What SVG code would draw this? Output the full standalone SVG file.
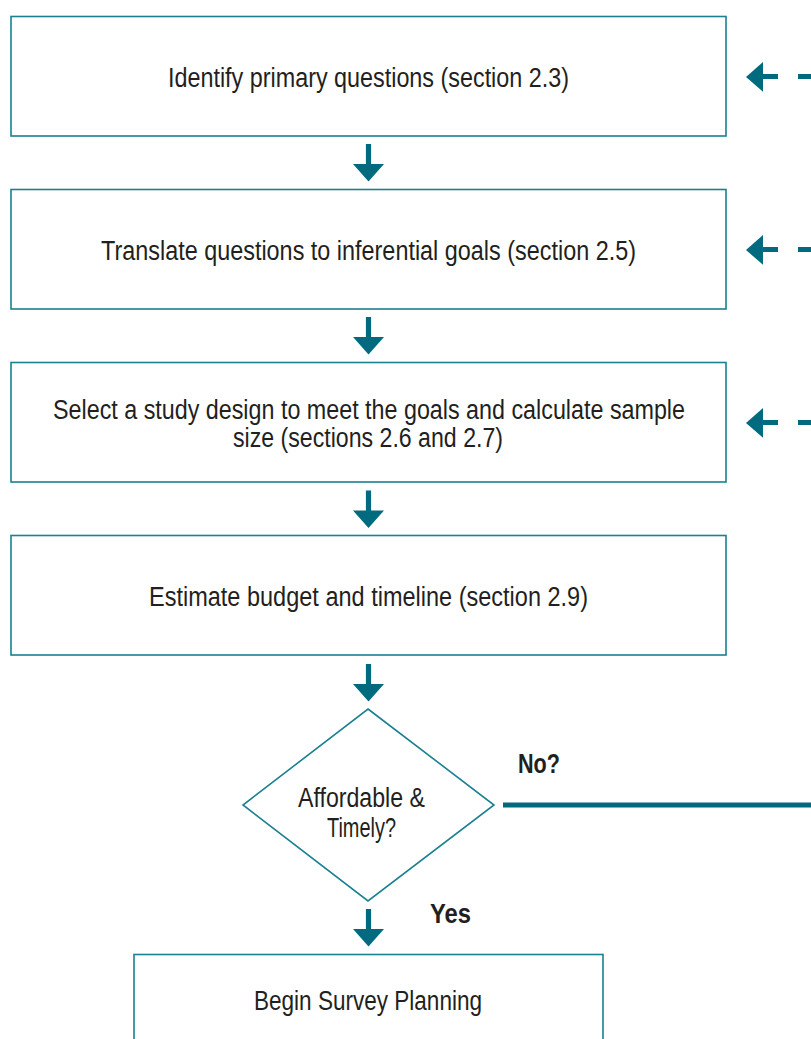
<svg xmlns="http://www.w3.org/2000/svg" width="811" height="1039" viewBox="0 0 811 1039">
<style>
.box{fill:#ffffff;stroke:#1b8090;stroke-width:1.6}
.t{font-family:"Liberation Sans Narrow","Liberation Sans",sans-serif;font-size:27px;fill:#231f20;font-stretch:condensed}
.b{font-family:"Liberation Sans Narrow","Liberation Sans",sans-serif;font-size:28px;font-weight:bold;fill:#231f20;font-stretch:condensed}
.arr{fill:#006a7e}
.ln{stroke:#006a7e;stroke-width:5;fill:none}
</style>
<defs>
<path id="down" d="M-2.6,0 H2.6 V20 H15.5 L0,37.5 L-15.5,20 H-2.6 Z"/>
</defs>
<rect width="811" height="1039" fill="#ffffff"/>
<g id="n1"><rect class="box" x="11" y="16.5" width="715" height="119.5"/><text class="t" x="168" y="87" textLength="401" lengthAdjust="spacingAndGlyphs">Identify primary questions (section 2.3)</text></g>
<g id="n2"><rect class="box" x="11" y="189.5" width="715" height="119.5"/><text class="t" x="101" y="260" textLength="535" lengthAdjust="spacingAndGlyphs">Translate questions to inferential goals (section 2.5)</text></g>
<g id="n3"><rect class="box" x="11" y="362.5" width="715" height="119.5"/><text class="t" x="53" y="419" textLength="632" lengthAdjust="spacingAndGlyphs">Select a study design to meet the goals and calculate sample</text><text class="t" x="233" y="447" textLength="270" lengthAdjust="spacingAndGlyphs">size (sections 2.6 and 2.7)</text></g>
<g id="n4"><rect class="box" x="11" y="535.5" width="715" height="119.5"/><text class="t" x="149" y="606" textLength="439" lengthAdjust="spacingAndGlyphs">Estimate budget and timeline (section 2.9)</text></g>
<g id="n5"><polygon class="box" points="368,709 494,805 368,901 243,805"/><text class="t" x="298" y="807" textLength="127" lengthAdjust="spacingAndGlyphs">Affordable &amp;</text><text class="t" x="327" y="836.5" textLength="69" lengthAdjust="spacingAndGlyphs">Timely?</text></g>
<g id="n6"><rect class="box" x="134" y="954.5" width="469" height="100"/><text class="t" x="254" y="1010" textLength="228" lengthAdjust="spacingAndGlyphs">Begin Survey Planning</text></g>
<g id="connectors">
<use href="#down" class="arr" x="368.5" y="144"/>
<use href="#down" class="arr" x="368.5" y="317"/>
<use href="#down" class="arr" x="368.5" y="490.5"/>
<use href="#down" class="arr" x="368.5" y="664"/>
<use href="#down" class="arr" x="368.5" y="909"/>
<g class="arr"><path d="M746,77 L763,62 V91.8 Z"/><path d="M746,250 L763,235 V264.8 Z"/><path d="M746,423 L763,408 V437.8 Z"/></g>
<g class="ln" stroke-dasharray="16 20"><path d="M762,76.5 H830"/><path d="M762,249.5 H830"/><path d="M762,422.5 H830"/></g>
<path class="ln" d="M503,805 H811"/>
<text class="b" x="518" y="773" textLength="42" lengthAdjust="spacingAndGlyphs">No?</text>
<text class="b" x="430" y="922.5" textLength="41" lengthAdjust="spacingAndGlyphs">Yes</text>
</g>
</svg>
